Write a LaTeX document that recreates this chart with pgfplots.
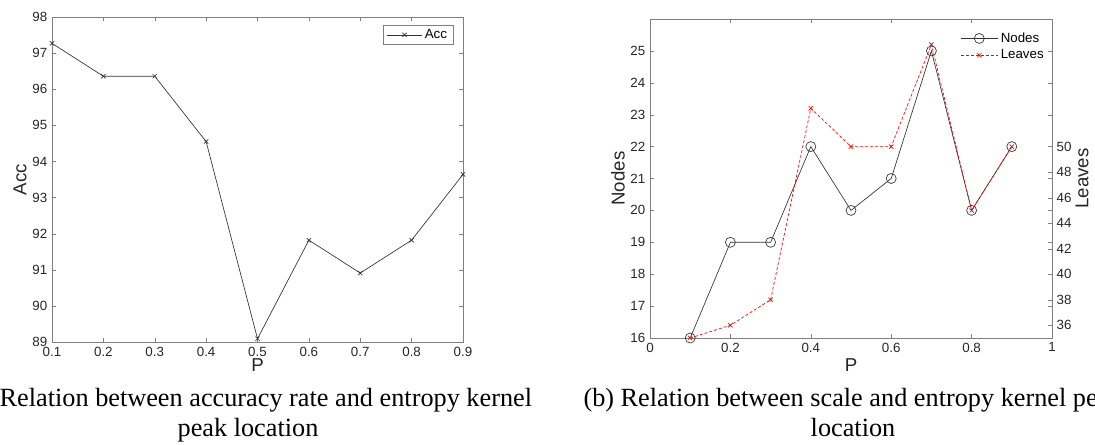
\documentclass[border=0pt]{standalone}
\usepackage{pgfplots}
\pgfplotsset{compat=1.18}
\usepackage{fontspec}
\setmainfont{Liberation Sans}
\newfontfamily\capfont{Liberation Serif}

% matlab-ish look shared by all axes
\pgfplotsset{
  mstyle/.style={
    scale only axis,
    axis line style={black!50},
    tick style={black!50},
    major tick length=3pt,
    tick align=inside,
    tick pos=both,
    tick label style={font=\fontsize{10}{11}\selectfont, text=black!85},
    label style={font=\fontsize{14}{16}\selectfont, text=black!85},
    /pgf/number format/assume math mode=true,
    /pgf/number format/fixed,
    clip=false,
  },
}

\begin{document}
\begin{tikzpicture}
\useasboundingbox (0pt,0pt) rectangle (821.25pt,-333pt);
\clip (0pt,0pt) rectangle (821.25pt,-333pt);

% (a) accuracy vs P
\begin{axis}[mstyle,
  at={(39pt,-256.5pt)}, anchor=south west,
  width=308.25pt, height=243.75pt,
  xmin=0.1, xmax=0.9, ymin=89, ymax=98,
  xtick={0.1,0.2,0.3,0.4,0.5,0.6,0.7,0.8,0.9},
  ytick={89,90,91,92,93,94,95,96,97,98},
  xlabel={P}, ylabel={Acc},
  xlabel style={at={([yshift=-17.5pt]axis description cs:0.5,0)}, anchor=center},
  ylabel style={at={([xshift=-24pt]axis description cs:0,0.5)}, anchor=center},
  legend style={at={(axis description cs:1,1)}, anchor=north east,
    xshift=-6.75pt, yshift=-6pt, draw=black!50,
    font=\fontsize{10}{11}\selectfont, inner xsep=3pt, inner ysep=1pt},
  legend image code/.code={\draw[mark repeat=2,mark phase=2,#1]
    plot coordinates {(0pt,0pt) (13pt,0pt) (26pt,0pt)};},
]
\addplot[black!80, line width=0.5pt, mark=x, mark size=2.25pt] coordinates {
(0.1,97.27) (0.2,96.36) (0.3,96.36) (0.4,94.55) (0.5,89.09)
(0.6,91.82) (0.7,90.91) (0.8,91.82) (0.9,93.64)
};
\addlegendentry{Acc}
\end{axis}

% (b) nodes, left scale
\begin{axis}[mstyle,
  at={(487.5pt,-253.5pt)}, anchor=south west,
  width=301.5pt, height=239.25pt,
  xmin=0, xmax=1, ymin=16, ymax=26,
  xtick={0,0.2,0.4,0.6,0.8,1},
  ytick={16,17,18,19,20,21,22,23,24,25},
  xlabel={P}, ylabel={Nodes},
  xlabel style={at={([yshift=-20.5pt]axis description cs:0.5,0)}, anchor=center},
  ylabel style={at={([xshift=-24pt]axis description cs:0,0.5)}, anchor=center},
]
\addplot[black!80, line width=0.5pt, mark=o, mark size=3.75pt] coordinates {
(0.1,16) (0.2,19) (0.3,19) (0.4,22) (0.5,20)
(0.6,21) (0.7,25) (0.8,20) (0.9,22)
};
\end{axis}

% (b) leaves, right scale
\begin{axis}[mstyle,
  at={(487.5pt,-253.5pt)}, anchor=south west,
  width=301.5pt, height=239.25pt,
  xmin=0, xmax=1, ymin=35, ymax=60,
  axis x line=none, axis y line*=right,
  tick align=inside, ytick pos=right, yticklabel pos=right,
  ytick={36,38,40,42,44,46,48,50},
  ylabel={Leaves},
  ylabel style={at={([xshift=22.5pt]axis description cs:1,0.5)}, anchor=center},
  legend style={at={(axis description cs:1,1)}, anchor=north east,
    xshift=-1pt, yshift=-6pt, draw=none, fill=none,
    font=\fontsize{10}{11}\selectfont, row sep=0pt},
  legend cell align=left,
  legend image code/.code={\draw[mark repeat=2,mark phase=2,#1]
    plot coordinates {(0pt,0pt) (13.9pt,0pt) (27.75pt,0pt)};},
]
\addlegendimage{black!80, line width=0.5pt, mark=o, mark size=3.75pt}
\addlegendentry{Nodes}
\addplot[red, line width=0.5pt, dash pattern=on 2.25pt off 1.5pt,
  mark=x, mark size=2.25pt, mark options={solid}] coordinates {
(0.1,35) (0.2,36) (0.3,38) (0.4,53) (0.5,50)
(0.6,50) (0.7,58) (0.8,45) (0.9,50)
};
\addlegendentry{Leaves}
\end{axis}

% captions
\node[anchor=base, inner sep=0pt] at (186pt,-304.5pt)
  {\capfont\fontsize{19.7}{22}\selectfont (a) Relation between accuracy rate and entropy kernel};
\node[anchor=base, inner sep=0pt] at (186pt,-327pt)
  {\capfont\fontsize{19.7}{22}\selectfont peak location};
\node[anchor=base, inner sep=0pt] at (639.75pt,-304.5pt)
  {\capfont\fontsize{19.7}{22}\selectfont (b) Relation between scale and entropy kernel peak};
\node[anchor=base, inner sep=0pt] at (639.75pt,-327pt)
  {\capfont\fontsize{19.7}{22}\selectfont location};
\end{tikzpicture}
\end{document}
